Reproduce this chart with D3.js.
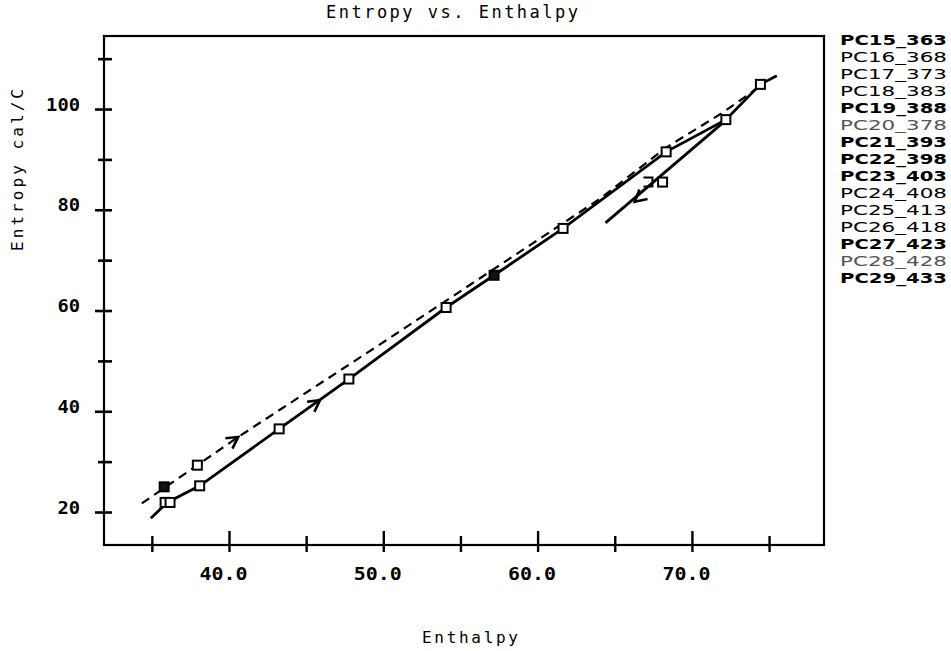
<!DOCTYPE html>
<html>
<head>
<meta charset="utf-8">
<script src="https://cdn.jsdelivr.net/npm/d3@7"></script>
<style>
  body { margin: 0; background: #fff; }
  svg { display: block; }
</style>
</head>
<body>
<script>
// data
// heating run (solid), fitted/first run (dashed), cooling return (solid, short)
var heatX = [34.93, 36.0, 38.1, 43.25, 47.77, 54.07, 57.18, 61.65, 68.33, 72.2, 74.44, 75.5];
var heatY = [18.75, 21.9, 25.2, 36.5, 46.4, 60.6, 67.0, 76.3, 91.5, 97.9, 104.9, 106.6];
var fitX = [34.35, 40.6, 50.2, 64.0, 68.3, 72.0, 74.6];
var fitY = [21.7, 34.9, 54.1, 82.1, 92.3, 99.3, 104.9];
var coolX = [72.4, 64.4];
var coolY = [98.3, 77.4];

// sample points (one per PC run)
var mkX = [35.8, 35.86, 36.18, 37.95, 38.1, 43.25, 47.77, 54.07, 57.18, 61.65, 67.15, 68.1, 68.33, 72.2, 74.44];
var mkY = [25.0, 21.9, 21.9, 29.3, 25.2, 36.5, 46.4, 60.6, 67.0, 76.3, 85.5, 85.5, 91.5, 97.9, 104.9];
var mkKind = ['filled', 'open', 'open', 'open', 'open', 'open', 'open', 'open', 'filled', 'open', 'bracket', 'open', 'open', 'open', 'open'];

// direction arrows: [series, x, y]
var arrows = [['fit', 40.6, 34.9], ['heat', 45.9, 42.2], ['cool', 66.3, 81.6]];

var xMajor = [40, 50, 60, 70];
var xMinor = [35, 45, 55, 65, 75];
var yMajor = [20, 40, 60, 80, 100];
var yMinor = [30, 50, 70, 90, 110];

var runs = ['PC15_363', 'PC16_368', 'PC17_373', 'PC18_383', 'PC19_388', 'PC20_378', 'PC21_393',
            'PC22_398', 'PC23_403', 'PC24_408', 'PC25_413', 'PC26_418', 'PC27_423', 'PC28_428', 'PC29_433'];
var runWeight = ['bold', 'normal', 'normal', 'normal', 'bold', 'light', 'bold',
                 'bold', 'bold', 'normal', 'normal', 'normal', 'bold', 'light', 'bold'];

var W = 951, H = 651;
var frame = {left: 104, top: 36, right: 824, bottom: 545};
var mono = '"DejaVu Sans Mono", monospace';

var svg = d3.select('body').append('svg').attr('width', W).attr('height', H);

var x = d3.scaleLinear().domain([31.9, 78.56]).range([frame.left, frame.right]);
var y = d3.scaleLinear().domain([13.45, 114.5]).range([frame.bottom, frame.top]);

// frame
svg.append('rect')
    .attr('x', frame.left).attr('y', frame.top)
    .attr('width', frame.right - frame.left).attr('height', frame.bottom - frame.top)
    .attr('fill', 'none').attr('stroke', '#000').attr('stroke-width', 2.2);

// x axis: ticks cross the frame line
function xTicks(vals, up, fmt) {
    var g = svg.append('g').attr('transform', 'translate(0,' + frame.bottom + ')')
        .call(d3.axisBottom(x).tickValues(vals).tickSize(0).tickFormat(fmt));
    g.select('.domain').remove();
    g.selectAll('.tick line').attr('y1', -up).attr('y2', 7).attr('stroke', '#000').attr('stroke-width', 2.4);
    g.selectAll('.tick text')
        .attr('y', 35).attr('dy', 0).attr('x', -6)
        .attr('fill', '#000')
        .style('font-family', mono).style('font-size', '17px').style('font-weight', 'bold')
        .attr('textLength', 48).attr('lengthAdjust', 'spacingAndGlyphs');
    return g;
}
xTicks(xMajor, 14, d3.format('.1f'));
xTicks(xMinor, 9, function () { return ''; });

// y axis
function yTicks(vals, left, fmt) {
    var g = svg.append('g').attr('transform', 'translate(' + frame.left + ',0)')
        .call(d3.axisLeft(y).tickValues(vals).tickSize(0).tickFormat(fmt));
    g.select('.domain').remove();
    g.selectAll('.tick line').attr('x1', -left).attr('x2', 8).attr('stroke', '#000').attr('stroke-width', 2.6);
    g.selectAll('.tick text')
        .attr('x', -24).attr('dy', 0).attr('y', 1)
        .attr('fill', '#000')
        .style('font-family', mono).style('font-size', '18px').style('font-weight', 'bold')
        .attr('textLength', function (d) { return String(d).length * 11.3; })
        .attr('lengthAdjust', 'spacingAndGlyphs');
    return g;
}
yTicks(yMajor, 9, d3.format('d'));
yTicks(yMinor, 6, function () { return ''; });

// titles
svg.append('text').attr('x', 452).attr('y', 18).attr('text-anchor', 'middle')
    .style('font-family', mono).style('font-size', '17px')
    .attr('textLength', 252).attr('lengthAdjust', 'spacing')
    .text('Entropy vs. Enthalpy');
svg.append('text').attr('x', 470).attr('y', 643).attr('text-anchor', 'middle')
    .style('font-family', mono).style('font-size', '16px')
    .attr('textLength', 96).attr('lengthAdjust', 'spacing')
    .text('Enthalpy');
svg.append('text').attr('transform', 'translate(23,170) rotate(-90)').attr('text-anchor', 'middle')
    .style('font-family', mono).style('font-size', '16px')
    .attr('textLength', 162).attr('lengthAdjust', 'spacing')
    .text('Entropy cal/C');

// lines
var series = {
    heat: d3.zip(heatX, heatY),
    fit: d3.zip(fitX, fitY),
    cool: d3.zip(coolX, coolY)
};
var line = d3.line().x(function (d) { return x(d[0]); }).y(function (d) { return y(d[1]); });

svg.append('path').datum(series.fit).attr('d', line)
    .attr('fill', 'none').attr('stroke', '#000').attr('stroke-width', 2.2).attr('stroke-dasharray', '9,6');
svg.append('path').datum(series.heat).attr('d', line)
    .attr('fill', 'none').attr('stroke', '#000').attr('stroke-width', 2.8);
svg.append('path').datum(series.cool).attr('d', line)
    .attr('fill', 'none').attr('stroke', '#000').attr('stroke-width', 2.8);

// chevron arrows pointing along series order
arrows.forEach(function (a) {
    var pts = series[a[0]];
    var i = 0;
    for (var k = 0; k < pts.length - 1; k++) {
        var lo = Math.min(pts[k][0], pts[k + 1][0]), hi = Math.max(pts[k][0], pts[k + 1][0]);
        if (a[1] >= lo && a[1] <= hi) { i = k; break; }
    }
    var dx = x(pts[i + 1][0]) - x(pts[i][0]), dy = y(pts[i + 1][1]) - y(pts[i][1]);
    var ang = Math.atan2(dy, dx);
    var px = x(a[1]), py = y(a[2]), len = 13, spread = 0.5;
    var p1 = [px - len * Math.cos(ang - spread), py - len * Math.sin(ang - spread)];
    var p2 = [px - len * Math.cos(ang + spread), py - len * Math.sin(ang + spread)];
    svg.append('path')
        .attr('d', 'M' + p1 + 'L' + [px, py] + 'L' + p2)
        .attr('fill', 'none').attr('stroke', '#000').attr('stroke-width', 2.6);
});

// square markers
var s = 9;
var mk = svg.append('g');
d3.zip(mkX, mkY, mkKind).forEach(function (d) {
    var cx = x(d[0]), cy = y(d[1]);
    if (d[2] === 'bracket') {
        mk.append('path')
            .attr('d', 'M' + (cx - s / 2) + ',' + (cy - s / 2) + 'H' + (cx + s / 2) + 'V' + (cy + s / 2) + 'H' + (cx - s / 2))
            .attr('fill', 'none').attr('stroke', '#000').attr('stroke-width', 2);
    } else {
        mk.append('rect')
            .attr('x', cx - s / 2).attr('y', cy - s / 2).attr('width', s).attr('height', s)
            .attr('fill', d[2] === 'filled' ? '#111' : '#fff')
            .attr('stroke', '#000').attr('stroke-width', 2);
    }
});

// run list on the right
svg.append('g').selectAll('text').data(runs).join('text')
    .attr('x', 840).attr('y', function (d, i) { return 45 + i * 17; })
    .style('font-family', '"DejaVu Sans", sans-serif').style('font-size', '14px')
    .style('font-weight', function (d, i) { return runWeight[i] === 'bold' ? 'bold' : 'normal'; })
    .attr('fill', function (d, i) { return runWeight[i] === 'light' ? '#555' : '#000'; })
    .attr('textLength', 107).attr('lengthAdjust', 'spacingAndGlyphs')
    .text(function (d) { return d; });
</script>
</body>
</html>
